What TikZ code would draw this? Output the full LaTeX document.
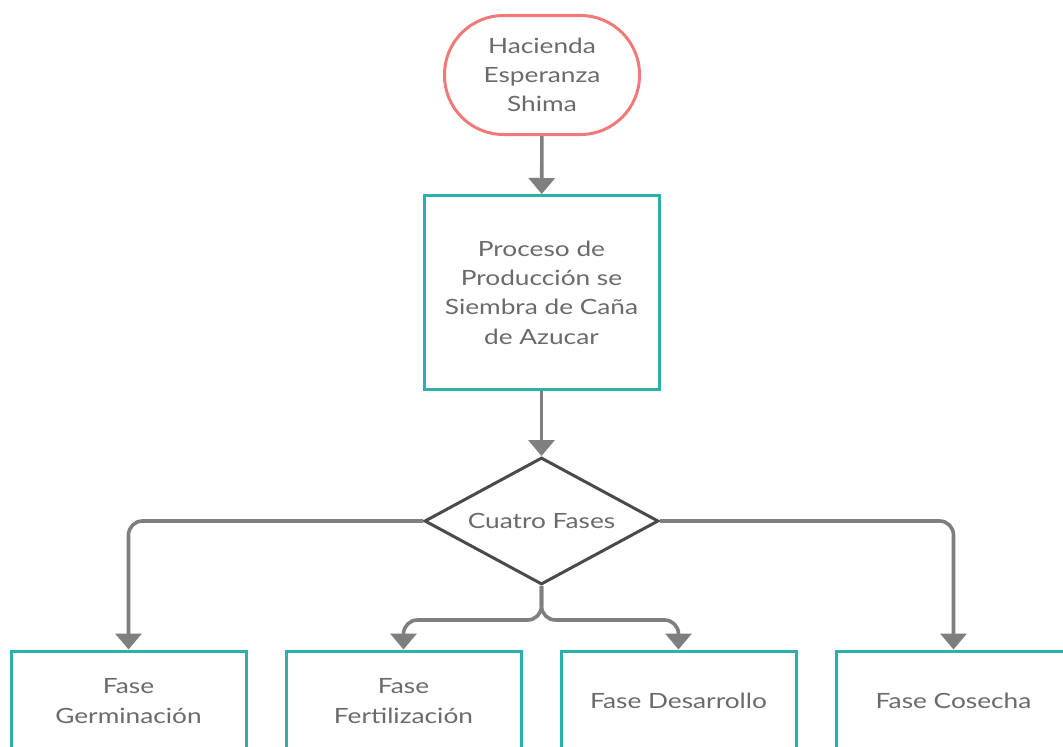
\documentclass[tikz,border=0pt]{standalone}
\usepackage{fontspec}
\setmainfont{Lato}[FakeStretch=1.25]
\usetikzlibrary{arrows.meta,shapes.geometric}
\definecolor{txt}{HTML}{6A6A6A}
\definecolor{teal}{HTML}{2BB0AC}
\definecolor{coral}{HTML}{F07A7A}
\definecolor{conn}{HTML}{7F7F7F}
\definecolor{dia}{HTML}{4A4A4A}
\tikzset{
  lbl/.style={text=txt, font=\fontsize{21}{29.3}\selectfont, align=center},
  term/.style={lbl, draw=coral, line width=3pt, rounded corners=59pt, minimum width=195pt, minimum height=119pt, inner sep=0pt},
  procbox/.style={lbl, draw=teal, line width=3pt, minimum width=235pt, minimum height=194pt, inner sep=0pt, fill=white},
  phase/.style={lbl, draw=teal, line width=3pt, minimum width=235pt, minimum height=100pt, inner sep=0pt, fill=white},
  decision/.style={lbl, draw=dia, line width=3pt, diamond, aspect=1.84, minimum width=234pt, minimum height=127pt, inner sep=0pt},
  connector/.style={draw=conn, line width=3.6pt, -{Triangle[width=26pt,length=16pt]}, rounded corners=14pt},
}
\begin{document}
\begin{tikzpicture}[x=1pt,y=-1pt]
\useasboundingbox (0,0) rectangle (1063,747);
\clip (0,0) rectangle (1063,747);
\fill[white] (0,0) rectangle (1063,747);
\node[term] (start) at (542,75) {Hacienda\\Esperanza\\Shima};
\node[procbox] (proc) at (541.5,292.5) {Proceso de\\Producción se\\Siembra de Caña\\de Azucar};
\node[decision] (dec) at (541.5,521) {Cuatro Fases};
\node[phase] (f1) at (128.5,701) {Fase\\Germinación};
\node[phase] (f2) at (403.5,701) {Fase\\Fertilización};
\node[phase] (f3) at (678.5,701) {Fase Desarrollo};
\node[phase] (f4) at (953.5,701) {Fase Cosecha};
\coordinate (split) at (541.5,620);
\draw[connector] (start) -- (proc);
\draw[connector] (proc) -- (dec);
\draw[connector] (dec.west) -| (f1.north);
\draw[connector] (dec.east) -| (f4.north);
\draw[connector] (dec.south) -- (split) -| (f2.north);
\draw[connector] (dec.south) -- (split) -| (f3.north);
\end{tikzpicture}
\end{document}
